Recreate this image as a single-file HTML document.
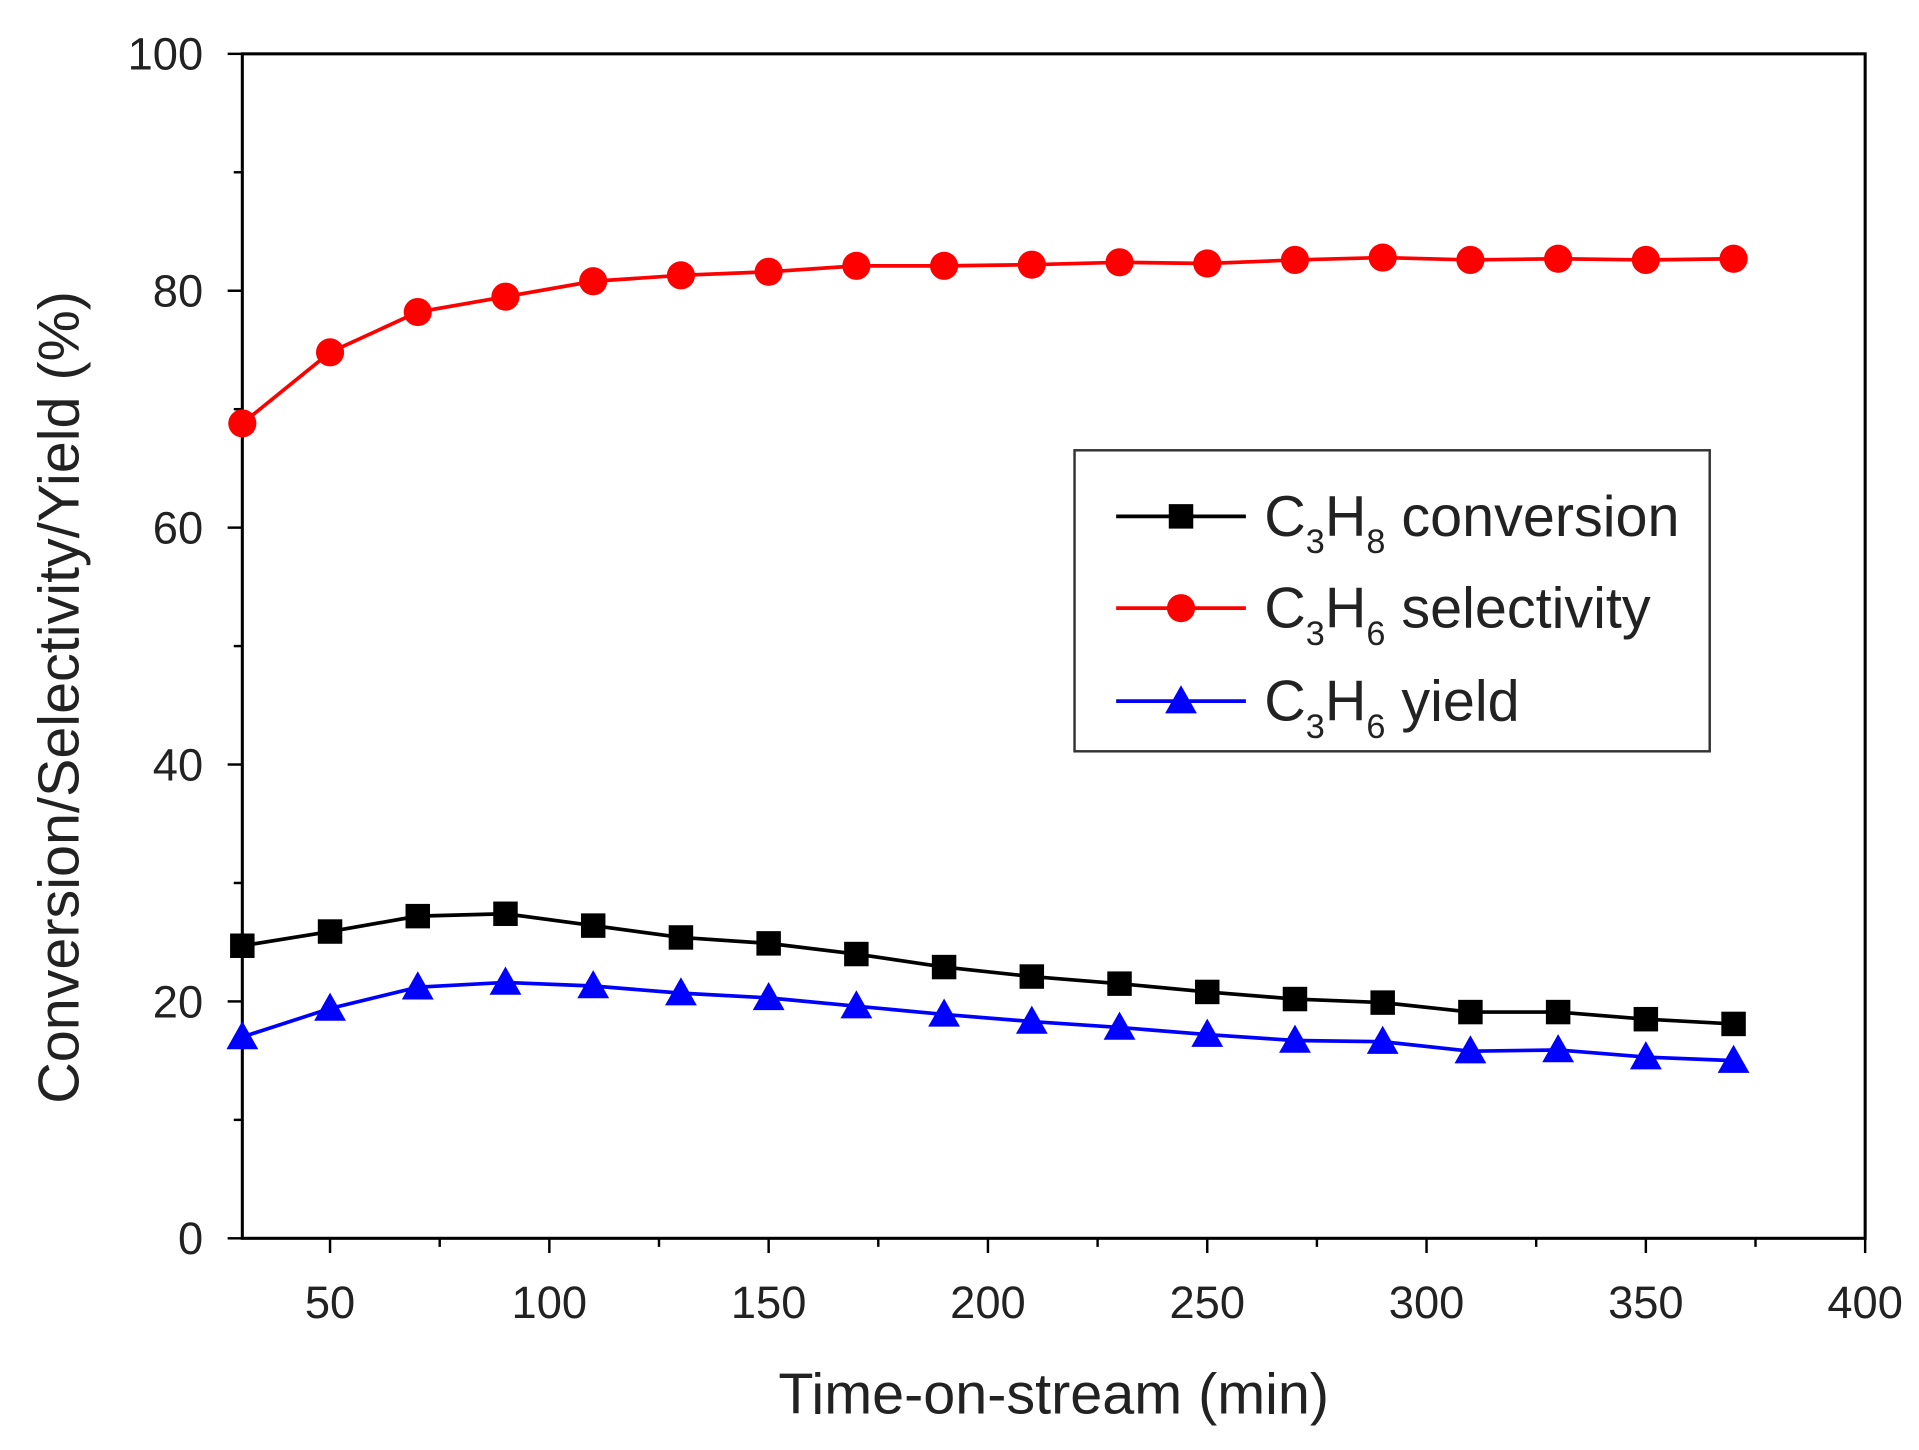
<!DOCTYPE html>
<html><head><meta charset="utf-8"><style>
html,body{margin:0;padding:0;background:#fff;}
svg{display:block;font-family:"Liberation Sans",Arial,sans-serif;}
</style></head><body>
<svg id="chart" width="1919" height="1450" viewBox="0 0 1568 1185" preserveAspectRatio="none" xmlns="http://www.w3.org/2000/svg">
<g id="plot"></g>
</svg>
<script>
const times=[30,50,70,90,110,130,150,170,190,210,230,250,270,290,310,330,350,370];
const conversion=[24.7,25.9,27.2,27.4,26.4,25.4,24.9,24.0,22.9,22.1,21.5,20.8,20.2,19.9,19.1,19.1,18.5,18.1];
const selectivity=[68.8,74.8,78.2,79.5,80.8,81.3,81.6,82.1,82.1,82.2,82.4,82.3,82.6,82.8,82.6,82.7,82.6,82.7];
const yieldVals=[17.0,19.4,21.2,21.6,21.3,20.7,20.3,19.6,18.9,18.3,17.8,17.2,16.7,16.6,15.8,15.9,15.3,15.0];
const xTicks=[50,100,150,200,250,300,350,400];
const yTicks=[0,20,40,60,80,100];

const NS="http://www.w3.org/2000/svg";
const g=document.getElementById('plot');
const L=198,R=1524,T=44,B=1012,X0=30,X1=400,Y0=0,Y1=100;
const sx=v=>L+(v-X0)/(X1-X0)*(R-L);
const sy=v=>B-(v-Y0)/(Y1-Y0)*(B-T);
function el(tag,attrs,parent){const e=document.createElementNS(NS,tag);for(const k in attrs)e.setAttribute(k,attrs[k]);(parent||g).appendChild(e);return e;}

const frame=el('rect',{x:L,y:T,width:R-L,height:B-T,fill:'none',stroke:'#000','stroke-width':2.5});



for(let v=50;v<=400;v+=25){
  const t=el('line',{x1:sx(v),x2:sx(v),y1:B,y2:B+(v%50===0?12:7),stroke:'#000','stroke-width':2});
  
  
}
xTicks.forEach(v=>{
  const t=el('text',{x:sx(v),y:1077,'font-size':37,'text-anchor':'middle',fill:'#222'});
  t.textContent=v;
  
  
});
for(let v=0;v<=100;v+=10){
  const t=el('line',{x1:L,x2:L-(v%20===0?12:7),y1:sy(v),y2:sy(v),stroke:'#000','stroke-width':2});
  
  
}
yTicks.forEach(v=>{
  const t=el('text',{x:166,y:sy(v)+13,'font-size':37,'text-anchor':'end',fill:'#222'});
  t.textContent=v;
  
  
});
const xt=el('text',{x:861,y:1155,'font-size':47,'text-anchor':'middle',fill:'#222'});
xt.textContent='Time-on-stream (min)';


const yt=el('text',{x:0,y:0,'font-size':47,'text-anchor':'middle',fill:'#222',transform:'translate(64,570) rotate(-90)'});
yt.textContent='Conversion/Selectivity/Yield (%)';



function marker(kind,cx,cy,color,parent){
  let m;
  if(kind==='square') m=el('rect',{x:cx-10,y:cy-10,width:20,height:20,fill:color},parent);
  else if(kind==='circle') m=el('circle',{cx:cx,cy:cy,r:11.5,fill:color},parent);
  else m=el('polygon',{points:`${cx},${cy-13} ${cx+13},${cy+10} ${cx-13},${cy+10}`,fill:color},parent);
  return m;
}
function series(vals,color,kind,name){
  const sg=el('g',{});
  
  
  const p=el('polyline',{points:times.map((t,i)=>sx(t)+','+sy(vals[i])).join(' '),fill:'none',stroke:color,'stroke-width':3},sg);
  
  
  times.forEach((t,i)=>{
    const m=marker(kind,sx(t),sy(vals[i]),color,sg);
    
    
  });
}
series(conversion,'#000','square','conversion');
series(selectivity,'#f00','circle','selectivity');
series(yieldVals,'#00f','triangle','yield');

const lg=el('g',{});


const lb=el('rect',{x:878,y:368,width:519,height:246,fill:'#fff',stroke:'#333','stroke-width':2},lg);


const entries=[['conversion','#000','square','8',' conversion',422],['selectivity','#f00','circle','6',' selectivity',497],['yield','#00f','triangle','6',' yield',573]];
entries.forEach(e=>{
  const eg=el('g',{},lg);
  
  
  el('line',{x1:912,x2:1018,y1:e[5],y2:e[5],stroke:e[1],'stroke-width':3},eg);
  marker(e[2],965,e[5],e[1],eg);
  const t=el('text',{x:1033,y:e[5]+16,'font-size':47,fill:'#222'},eg);
  t.innerHTML=`C<tspan font-size="28" dy="14">3</tspan><tspan dy="-14">H</tspan><tspan font-size="28" dy="14">${e[3]}</tspan><tspan dy="-14">${e[4]}</tspan>`;
});
</script>
</body></html>
